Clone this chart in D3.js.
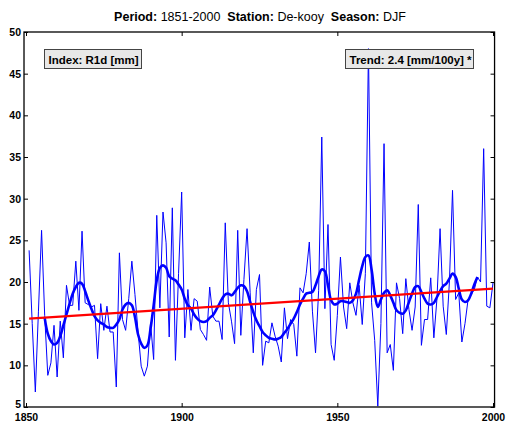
<!DOCTYPE html>
<html>
<head>
<meta charset="utf-8">
<script src="https://cdn.jsdelivr.net/npm/d3@7"></script>
<style>
  body { margin: 0; background: #fff; }
  svg text { font-family: "Liberation Sans", Arial, Helvetica, sans-serif; }
  .tick-label { font-size: 10.5px; font-weight: bold; }
  .box-label { font-size: 11.5px; font-weight: bold; }
</style>
</head>
<body>
<div id="chart"></div>
<script>
'use strict';

// Yearly index values, 1851-2000
const years = d3.range(1851, 2001);
const values = [
  23.8, 15, 6.8, 16.5, 26.2, 16, 8.8, 10.3, 14.8, 8.6,
  15.3, 10.9, 19.6, 17.2, 17.2, 22.5, 16.6, 26.1, 17.5, 17.3,
  17, 17.2, 10.8, 17.4, 14.2, 17.1, 14, 14, 7.4, 23.5,
  15.5, 14.2, 18, 22.5, 18.5, 14, 9.9, 8.7, 9.9, 15.1,
  10.7, 28, 16.9, 28.4, 24.7, 13.4, 28.9, 10.6, 21, 30.8,
  13.3, 19.1, 14.2, 18, 17.7, 14.3, 13.7, 13, 19.4, 15.9,
  15.3, 15.3, 13.1, 27.1, 17.5, 15.3, 12.6, 26.2, 13.6, 20.3,
  26.4, 18.7, 11.5, 19.1, 20.9, 10, 12.9, 12.7, 15.1, 13.5,
  12.3, 10.4, 16.9, 13.2, 15.5, 14.9, 11.1, 19.3, 18.7, 21,
  24.8, 16.5, 11.5, 19, 37.4, 16.8, 26.9, 12.5, 10.6, 16,
  23, 17, 14.4, 19.9, 17.5, 16, 19.6, 14.9, 21, 48,
  17.5, 13, 5.1, 15, 36.6, 11.5, 12.5, 9.4, 19.9, 18,
  13.8, 20.4, 16.7, 14.2, 17, 29.3, 12.4, 15.5, 15.5, 20.5,
  13.3, 18, 26.4, 17.1, 13.7, 20, 31, 17.9, 18.7, 12.8,
  15, 17.9, 18.5, 19.1, 20.6, 20, 36, 17.1, 16.9, 19.9
];

// Smoothed curve (1856-1995)
const smoothYears = d3.range(1856, 1996);
const smoothValues = [
  15.7, 13.8, 12.9, 12.5, 12.7, 13.5, 14.8, 16.1, 17.4, 18.6,
  19.4, 19.9, 19.8, 18.9, 17.8, 16.8, 15.9, 15.4, 15.1, 14.9,
  14.6, 14.5, 14.5, 14.9, 15.5, 16.7, 17.3, 17.5, 17.2, 15.8,
  13.7, 12.6, 12.1, 12.4, 14.4, 17.2, 20.2, 21.7, 22.0, 21.7,
  20.7, 20.4, 20.2, 19.7, 19.1, 18.0, 17.2, 16.8, 16.1, 15.6,
  15.3, 15.2, 15.3, 15.7, 16.0, 16.6, 17.3, 18.0, 18.5, 18.6,
  18.4, 18.8, 19.3, 19.6, 19.5, 18.9, 17.6, 16.4, 15.4, 14.7,
  14.0, 13.6, 13.3, 13.2, 13.1, 13.2, 13.4, 13.9, 14.4, 15.0,
  15.6, 16.4, 17.3, 18.0, 18.6, 18.7, 18.8, 19.6, 20.7, 21.5,
  21.3, 19.6, 17.8, 17.3, 17.4, 17.7, 17.7, 17.6, 17.5, 17.8,
  18.6, 20.3, 21.9, 23.0, 23.2, 21.5, 18.6, 17.0, 17.9, 18.7,
  19.0, 18.4, 17.5, 16.6, 16.3, 16.2, 16.6, 17.6, 18.6, 19.4,
  19.5, 18.8, 18.0, 17.4, 17.3, 17.5, 18.2, 18.9, 19.5, 19.8,
  20.4, 21.0, 20.6, 19.2, 17.9, 17.6, 17.8, 18.6, 19.7, 20.6
];

// Linear trend end points
const trendYears = [1851, 2000];
const trendValues = [15.6, 19.2];

const xTicks = [1850, 1900, 1950, 2000];
const yTicks = [5, 10, 15, 20, 25, 30, 35, 40, 45, 50];

const titleParts = [
  ["Period: ", true], ["1851-2000", false],
  ["  Station: ", true], ["De-kooy", false],
  ["  Season: ", true], ["DJF", false]
];
const indexLabel = "Index: R1d [mm]";
const trendLabel = "Trend: 2.4 [mm/100y] *";

const w = 506, h = 423;

const svg = d3.select("#chart").append("svg")
  .attr("width", w)
  .attr("height", h);

const x = d3.scaleLinear().domain([1850, 2000]).range([26, 493]);
const y = d3.scaleLinear().domain([5, 50]).range([407, 32]);

const plotLeft = x(1849.36), plotRight = x(2000.5);
const plotTop = y(50), plotBottom = y(5);

svg.append("clipPath").attr("id", "plot-clip")
  .append("rect")
  .attr("x", plotLeft).attr("y", plotTop)
  .attr("width", plotRight - plotLeft).attr("height", plotBottom - plotTop);

const plot = svg.append("g").attr("clip-path", "url(#plot-clip)");

// thin yearly series
plot.append("path")
  .datum(years.map((d, i) => [d, values[i]]))
  .attr("fill", "none")
  .attr("stroke", "#0000ff")
  .attr("stroke-width", 1)
  .attr("d", d3.line().x(d => x(d[0])).y(d => y(d[1])));

// smoothed series
plot.append("path")
  .datum(smoothYears.map((d, i) => [d, smoothValues[i]]))
  .attr("fill", "none")
  .attr("stroke", "#0000ff")
  .attr("stroke-width", 2.6)
  .attr("stroke-linejoin", "round")
  .attr("d", d3.line().curve(d3.curveCatmullRom).x(d => x(d[0])).y(d => y(d[1])));

// trend
plot.append("path")
  .datum(trendYears.map((d, i) => [d, trendValues[i]]))
  .attr("stroke", "#ff0000")
  .attr("stroke-width", 2.4)
  .attr("d", d3.line().x(d => x(d[0])).y(d => y(d[1])));

// frame
svg.append("rect")
  .attr("x", plotLeft).attr("y", plotTop)
  .attr("width", plotRight - plotLeft).attr("height", plotBottom - plotTop)
  .attr("fill", "none")
  .attr("stroke", "#000")
  .attr("stroke-width", 1.3);

// axes with inward ticks
const tl = 4;
svg.append("g").attr("transform", `translate(0,${plotBottom})`)
  .call(d3.axisBottom(x).tickValues(xTicks).tickSize(-tl).tickPadding(7).tickFormat(d3.format("d")))
  .call(g => g.select(".domain").remove());
svg.append("g").attr("transform", `translate(0,${plotTop})`)
  .call(d3.axisTop(x).tickValues(xTicks).tickSize(-tl).tickFormat(""))
  .call(g => g.select(".domain").remove());
svg.append("g").attr("transform", `translate(${plotLeft},0)`)
  .call(d3.axisLeft(y).tickValues(yTicks).tickSize(-tl).tickPadding(3))
  .call(g => g.select(".domain").remove())
  // lowest label sits just above the corner so it clears "1850"
  .call(g => g.selectAll(".tick text").filter(d => d === 5).attr("y", -2.5));
svg.append("g").attr("transform", `translate(${plotRight},0)`)
  .call(d3.axisRight(y).tickValues(yTicks).tickSize(-tl).tickFormat(""))
  .call(g => g.select(".domain").remove());

svg.selectAll(".tick line").attr("stroke", "#000");
svg.selectAll(".tick text")
  .attr("class", "tick-label")
  .attr("fill", "#000")
  .style("font-family", '"Liberation Sans", Arial, sans-serif');

// title
const title = svg.append("text")
  .attr("x", w / 2 + 7)
  .attr("y", 21)
  .attr("text-anchor", "middle")
  .style("font-size", "12.5px")
  .style("white-space", "pre");
title.selectAll("tspan")
  .data(titleParts)
  .enter().append("tspan")
  .attr("font-weight", d => d[1] ? "bold" : "normal")
  .text(d => d[0]);

// label boxes
function addBox (x0, x1, label) {
  const g = svg.append("g");
  g.append("rect")
    .attr("x", x0).attr("y", 49.5)
    .attr("width", x1 - x0).attr("height", 19)
    .attr("fill", "#e8e8e8")
    .attr("stroke", "#444")
    .attr("stroke-width", 1);
  g.append("text")
    .attr("class", "box-label")
    .attr("x", x0 + 4)
    .attr("y", 63.5)
    .text(label);
}
addBox(44.5, 141.5, indexLabel);
addBox(345.5, 473.5, trendLabel);
</script>
</body>
</html>
